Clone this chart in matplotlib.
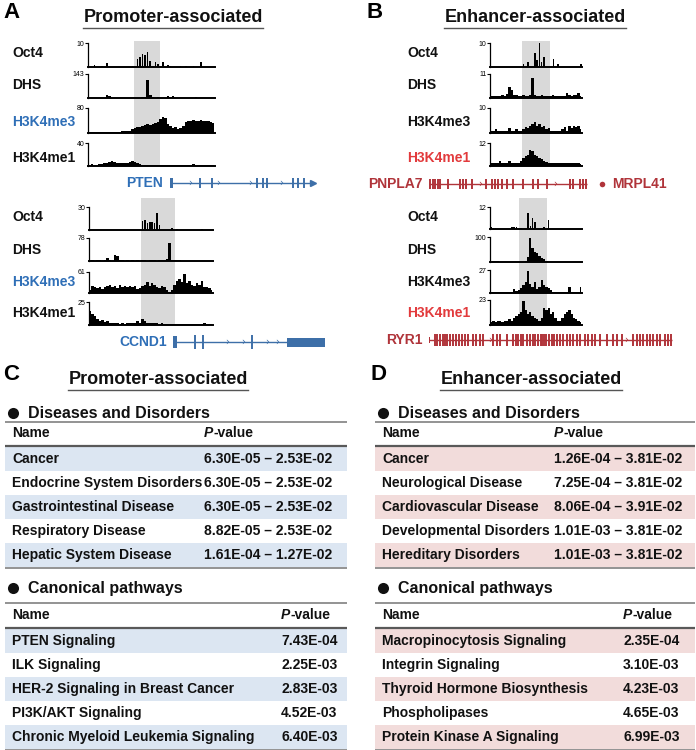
import matplotlib.pyplot as plt
from matplotlib.patches import Rectangle
import numpy as np

plt.rcParams['font.family'] = ['Liberation Sans', 'DejaVu Sans']

W, H = 696, 750

marks = ["Oct4", "DHS", "H3K4me3", "H3K4me1"]

# ---- panel A, PTEN locus (50 bins) ----
pten_max = [10, 143, 80, 40]
pten_oct4 = [0, 0, 1.0, 0, 0, 0.6, 0, 1.6, 0, 0, 0, 0, 0, 0, 0, 0, 0, 0.4, 0, 3.3,
             4.0, 5.5, 5.0, 6.2, 2.5, 0.5, 2.0, 1.2, 0, 2.0, 0, 0.8, 0.6, 0, 0, 0, 0.6, 0, 0.6, 0,
             0, 0.6, 0, 0, 2.0, 0, 0, 0, 0, 0]
pten_dhs = [1, 1, 1, 1, 1, 1, 2, 15, 12, 2, 1, 1, 1, 1, 1, 1, 1, 1, 1, 1,
            2, 4, 8, 110, 20, 3, 2, 4, 1, 1, 2, 10, 3, 12, 2, 1, 1, 1, 1, 1,
            1, 1, 3, 1, 1, 1, 1, 1, 1, 1]
pten_me3 = [2, 2, 3, 2, 3, 2, 3, 3, 2, 3, 4, 3, 4, 5, 5, 6, 8, 12, 16, 18,
            20, 22, 25, 28, 26, 30, 33, 36, 45, 52, 48, 30, 22, 16, 20, 14, 16, 24, 34, 40,
            38, 42, 40, 38, 42, 40, 38, 40, 36, 32]
pten_me1 = [2, 3, 1.5, 2, 3, 4, 5, 6, 7, 8, 7, 6, 5, 6, 5, 6, 7, 8, 7, 6,
            4, 2, 1.5, 1, 1, 1.5, 1, 1, 1, 1.5, 1, 1, 1, 1, 1, 1, 1, 1, 1, 1.5,
            2, 3, 2, 1, 1, 1.5, 2, 1.5, 2, 1.5]
pten_peak = (17.5, 27.7)

# ---- panel A, CCND1 locus (50 bins) ----
ccnd1_max = [30, 78, 61, 25]
ccnd1_oct4 = [0] * 21 + [12, 13, 9, 10, 11, 9, 22, 6, 0, 0, 0, 0, 2, 0, 1.2,
                         0, 0, 0, 0, 0, 0, 0, 0, 0, 0.8, 0, 0, 0, 0]
ccnd1_dhs = [1, 2, 1, 2, 5, 1, 2, 9, 2, 1, 22, 16, 5, 2, 1, 2, 1, 2, 1, 2,
             1, 2, 2, 1, 2, 4, 2, 1, 5, 2, 2, 8, 60, 5, 3, 2, 2, 1, 1, 1,
             1, 1, 1, 1, 1, 1, 1, 1, 1, 1]
ccnd1_me3 = [8, 20, 16, 15, 18, 12, 16, 20, 24, 18, 20, 15, 23, 16, 20, 18, 20, 16, 20, 12,
             15, 20, 24, 31, 20, 28, 24, 16, 15, 20, 18, 8, 4, 8, 24, 36, 41, 32, 55, 28,
             36, 24, 20, 28, 23, 36, 16, 18, 15, 10]
ccnd1_me1 = [15, 12, 10, 7, 4, 5, 3, 4, 2.5, 2, 2.5, 2, 1.5, 2, 1.5, 2, 2.5, 2, 2.5, 4,
             2, 6, 4, 2.5, 2.5, 2, 2.5, 2, 1.5, 2, 1.5, 0.8, 1, 0.8, 0.8, 1, 0.8, 0.8, 0.8, 0.8,
             1, 0.8, 0.8, 0.8, 0.8, 0.8, 2, 0.8, 0.8, 0.8]
ccnd1_peak = (20.5, 34.0)

# ---- panel B, PNPLA7 locus (40 bins) ----
pnpla7_max = [10, 11, 10, 12]
pnpla7_oct4 = [0] * 14 + [1.4, 0, 2, 0, 0, 5.7, 3, 10, 2, 4, 0, 0, 0, 3.5, 0, 1.4,
                          0, 0, 0, 0, 0, 0, 0, 0, 0, 1.4]
pnpla7_dhs = [1, 0.8, 1, 0.8, 1, 1.2, 1, 2, 5, 3.5, 1.5, 1.2, 1, 0.8, 1.5, 1, 0.8, 1.5, 9, 1.5,
              1, 0.8, 1.2, 1, 0.8, 1, 0.8, 1.2, 0.8, 1, 0.8, 1, 1, 2.5, 1.2, 1, 1.5, 1.2, 2.5, 1]
pnpla7_me3 = [0.7, 0.7, 1.5, 0.7, 0.8, 0.7, 1, 0.8, 2.2, 0.7, 0.8, 1.5, 0.7, 1, 1.5, 2.5, 2, 3, 3.5, 4.5,
              3, 3.8, 2.5, 3, 1.5, 2, 1, 0.8, 0.7, 0.8, 0.7, 1.5, 2.5, 1, 2.8, 2, 3, 2.5, 3, 1.5]
pnpla7_me1 = [1.4, 1.4, 1.7, 1.4, 2.5, 1.4, 1.7, 1.4, 2.5, 1.4, 1.4, 1.7, 1.4, 2.5, 4.2, 5.1, 6, 8.5, 7.6, 6,
              5.1, 4.2, 3.4, 2.5, 2, 1.7, 1.4, 1.7, 1.4, 1.4, 1.7, 1.4, 1.4, 1.7, 1.4, 1.7, 1.4, 1.7, 1.4, 1]
pnpla7_peak = (13.6, 25.7)

# ---- panel B, RYR1 locus (40 bins) ----
ryr1_max = [12, 100, 27, 23]
ryr1_oct4 = [1, 0.5, 0.7, 0, 0, 0, 0, 0, 0, 1, 1, 1, 0, 0.5, 0, 0, 9, 1.6, 5.8, 4,
             0, 0, 0, 1.3, 0, 5, 0, 0, 0, 0, 0, 0, 0, 0, 0, 0, 0, 0, 0, 0]
ryr1_dhs = [0.5, 2, 3, 2, 0.5, 0.5, 0.5, 0.5, 0.5, 0.5, 0.5, 0.5, 0.5, 0.5, 0.5, 2, 20, 97, 55, 40,
            35, 25, 16, 10, 5, 1, 0.5, 0.5, 0.5, 0.5, 0.5, 0.5, 0.5, 0.5, 0.5, 0.5, 0.5, 0.5, 0.5, 0.5]
ryr1_me3 = [0.7, 0.7, 0.7, 0.7, 0.7, 0.7, 0.7, 0.7, 0.7, 0.7, 4.4, 2.2, 3.7, 5.5, 9.2, 13, 26, 11, 7.4, 13,
            4.4, 7.4, 15, 9, 7.4, 5.5, 3, 0.7, 0.7, 0.7, 0.7, 0.7, 0.7, 0.7, 7.4, 0.7, 0.7, 0.7, 0.7, 7.4]
ryr1_me1 = [2.7, 3.4, 2.7, 4.1, 3.4, 2.7, 4.1, 3.4, 5.1, 4.1, 6.9, 8.6, 10.3, 12, 22.3, 13.7, 10.3, 12, 8.6, 6.9,
            5.1, 4.1, 6.9, 15.4, 13.7, 15.4, 10.3, 12, 6.9, 3.4, 3.4, 6.9, 10.3, 12, 13.7, 10.3, 6.9, 5.1, 3.4, 2.7]
ryr1_peak = (12.2, 24.2)

# ---- gene models (positions along the locus) ----
pten_exons = [29.5, 42, 87, 93, 97, 123, 128, 133.5]
pten_chev = [20, 48, 80, 111]
ccnd1_exons = [22, 30, 79]
ccnd1_chev = [54, 70, 94, 104]
pnpla7_exons = [1, 3.5, 6, 8.5, 11, 19.3, 31, 33.7, 37, 42.7, 57, 62.7, 66, 69.3, 72.7, 77.7,
                84.3, 94.3, 103.7, 109.3, 117.7, 141, 143.7, 151, 154.3, 157]
pnpla7_chev = [51, 126]
ryr1_exons = [6, 8.3, 11, 13.7, 16, 18.3, 21, 24.3, 27, 30.3, 32.7, 36, 39.3, 43.7, 47, 51, 54.3,
              64.3, 67.7, 71, 77.7, 83.7, 86.7, 89.3, 91.7, 94.3, 97.7, 101, 103.7, 106, 109.3, 112,
              113.3, 115, 117, 120.3, 122.7, 125, 127.7, 131, 134.3, 137.7, 141, 144.3, 147.7, 151,
              156, 159.3, 162.7, 166, 171, 177.7, 184.3, 187.7, 192.7, 204.3, 207.7, 211, 214.3,
              217.7, 221, 224.3, 227.7, 231, 236, 239.3, 241.7]
ryr1_chev = [61, 197]

# ---- tables ----
c_dis_names = ["Cancer", "Endocrine System Disorders", "Gastrointestinal Disease",
               "Respiratory Disease", "Hepatic System Disease"]
c_dis_p = ["6.30E-05 \u2013 2.53E-02", "6.30E-05 \u2013 2.53E-02", "6.30E-05 \u2013 2.53E-02",
           "8.82E-05 \u2013 2.53E-02", "1.61E-04 \u2013 1.27E-02"]
c_path_names = ["PTEN Signaling", "ILK Signaling", "HER-2 Signaling in Breast Cancer",
                "PI3K/AKT Signaling", "Chronic Myeloid Leukemia Signaling"]
c_path_p = ["7.43E-04", "2.25E-03", "2.83E-03", "4.52E-03", "6.40E-03"]
d_dis_names = ["Cancer", "Neurological Disease", "Cardiovascular Disease",
               "Developmental Disorders", "Hereditary Disorders"]
d_dis_p = ["1.26E-04 \u2013 3.81E-02", "7.25E-04 \u2013 3.81E-02", "8.06E-04 \u2013 3.91E-02",
           "1.01E-03 \u2013 3.81E-02", "1.01E-03 \u2013 3.81E-02"]
d_path_names = ["Macropinocytosis Signaling", "Integrin Signaling", "Thyroid Hormone Biosynthesis",
                "Phospholipases", "Protein Kinase A Signaling"]
d_path_p = ["2.35E-04", "3.10E-03", "4.23E-03", "4.65E-03", "6.99E-03"]

BLUE_TXT = "#2f6fb7"
BLUE_GENE = "#3d6fa8"
RED_LBL = "#e23a3c"
RED_GENE = "#b0343a"
TXT = "#111111"

fig = plt.figure(figsize=(6.96, 7.5), dpi=100)
ax0 = fig.add_axes([0, 0, 1, 1])
ax0.set_xlim(0, W)
ax0.set_ylim(H, 0)
ax0.axis('off')


def px_axes(x0, y0, x1, y1, z=1):
    a = fig.add_axes([x0 / W, 1 - y1 / H, (x1 - x0) / W, (y1 - y0) / H])
    a.set_zorder(z)
    a.patch.set_alpha(0)
    return a


def highlight(x0, x1, y0, y1, n, span):
    a = px_axes(x0, y0, x1, y1, z=0.5)
    a.set_xlim(-0.5, n - 0.5)
    a.axvspan(span[0], span[1], color='#d9d9d9', lw=0)
    a.axis('off')


def track(x0, x1, y0, y1, vals, vmax, spiky=False):
    a = px_axes(x0, y0, x1, y1)
    n = len(vals)
    if spiky:
        a.bar(np.arange(n), vals, width=0.6, color='black', lw=0)
    else:
        a.fill_between(np.arange(n), vals, step='mid', color='black', lw=0)
    a.set_xlim(-0.5, n - 0.5)
    a.set_ylim(0, vmax)
    a.spines[['top', 'right']].set_visible(False)
    a.spines['left'].set_linewidth(0.9)
    a.spines['bottom'].set_linewidth(1.4)
    a.set_xticks([])
    a.set_yticks([vmax])
    a.set_yticklabels([str(vmax)], fontsize=5)
    a.tick_params(axis='y', length=2, width=0.8, pad=0.5)


def gene(x0, x1, yc, span, line_end, exons, color, chev, tall=5, blocks=()):
    a = px_axes(x0, yc - 8, x1, yc + 8)
    a.set_xlim(0, span)
    a.set_ylim(-8, 8)
    a.axis('off')
    a.hlines(0, 0, line_end, color=color, lw=1)
    a.vlines(exons, -tall, tall, color=color, lw=1.4)
    for s, w, h in blocks:
        a.add_patch(Rectangle((s, -h), w, 2 * h, color=color, lw=0))
    for c in chev:
        a.text(c, 0, '\u203a', color=color, fontsize=7, ha='center', va='center',
               family=['DejaVu Sans'])
    return a


def track_group(x0, x1, tops, bots, data, maxes, peak, box):
    n = len(data[0])
    highlight(x0, x1, box[0], box[1], n, peak)
    for i, (t, b, v, m) in enumerate(zip(tops, bots, data, maxes)):
        track(x0, x1, t, b, v, m, spiky=(i == 0))


def labels(x, ys, colors):
    for m, y, c in zip(marks, ys, colors):
        ax0.text(x, y, m, fontsize=10, fontweight='bold', color=c, va='center', ha='left')


def title(x, y, s):
    return ax0.text(x, y, s, fontsize=13, fontweight='bold', ha='center', va='center', color=TXT)


# panel letters / titles
for lx, ly, s in [(3, 12, "A"), (367, 12, "B"), (3, 374, "C"), (371, 374, "D")]:
    ax0.text(lx, ly, s, fontsize=16, fontweight='bold', va='center', ha='left')
titles = [title(173, 18, "Promoter-associated"), title(535, 18, "Enhancer-associated"),
          title(158, 380, "Promoter-associated"), title(531, 380, "Enhancer-associated")]

# panel A
track_group(88, 215, [43, 74, 108, 143], [67, 98, 133, 166],
            [pten_oct4, pten_dhs, pten_me3, pten_me1], pten_max, pten_peak, (41, 166))
labels(12, [53, 85, 122, 158], [TXT, TXT, BLUE_TXT, TXT])
g = gene(170, 316, 183, 146, 141, pten_exons, BLUE_GENE, pten_chev, tall=5,
         blocks=[(0, 2.5, 5)])
g.plot([142.5], [0], marker='>', ms=5, color=BLUE_GENE, lw=0)
ax0.text(163, 183, "PTEN", color=BLUE_TXT, fontsize=10, fontweight='bold', ha='right', va='center')

track_group(89, 213, [207, 238, 272, 302], [230, 261, 293, 325],
            [ccnd1_oct4, ccnd1_dhs, ccnd1_me3, ccnd1_me1], ccnd1_max, ccnd1_peak, (198, 325))
labels(12, [217, 250, 282, 313], [TXT, TXT, BLUE_TXT, TXT])
gene(173, 326, 342, 153, 114, ccnd1_exons, BLUE_GENE, ccnd1_chev, tall=7,
     blocks=[(0, 4, 6), (114, 38, 4.5)])
ax0.text(167, 342, "CCND1", color=BLUE_TXT, fontsize=10, fontweight='bold', ha='right', va='center')

# panel B
track_group(490, 582, [43, 74, 108, 143], [67, 98, 133, 166],
            [pnpla7_oct4, pnpla7_dhs, pnpla7_me3, pnpla7_me1], pnpla7_max, pnpla7_peak, (41, 166))
labels(407, [53, 85, 122, 158], [TXT, TXT, TXT, RED_LBL])
g = gene(429, 606, 184, 177, 158, pnpla7_exons, RED_GENE, pnpla7_chev, tall=5)
g.plot([172.7], [0], marker='o', ms=4, mew=0, color=RED_GENE, lw=0)
ax0.text(423, 184, "PNPLA7", color=RED_GENE, fontsize=10, fontweight='bold', ha='right', va='center')
ax0.text(612, 184, "MRPL41", color=RED_GENE, fontsize=10, fontweight='bold', ha='left', va='center')

track_group(490, 582, [207, 237, 270, 300], [229, 262, 293, 325],
            [ryr1_oct4, ryr1_dhs, ryr1_me3, ryr1_me1], ryr1_max, ryr1_peak, (198, 325))
labels(407, [217, 250, 282, 313], [TXT, TXT, TXT, RED_LBL])
gene(429, 673, 340, 244, 243, ryr1_exons, RED_GENE, ryr1_chev, tall=6, blocks=[(0, 0.8, 3)])
ax0.text(423, 340, "RYR1", color=RED_GENE, fontsize=10, fontweight='bold', ha='right', va='center')

FS = 10


# tables
def table(x0, x1, y_sec, y_top, y_head, y_hl, heading, names, pvals, name_x, p_x, band):
    ax0.plot([x0 + 8], [y_sec], marker='o', ms=8, mew=0, color=TXT, lw=0)
    ax0.text(x0 + 23, y_sec, heading, fontsize=11.5, fontweight='bold', va='center', ha='left',
             color=TXT)
    ax0.plot([x0, x1], [y_top, y_top], color='#808080', lw=1.2, solid_capstyle='butt')
    ax0.text(name_x, y_head, "Name", fontsize=FS, fontweight='bold', va='center', color=TXT)
    tp = ax0.text(p_x, y_head, "P", fontsize=FS, fontweight='bold', style='italic',
                  va='center', color=TXT)
    ax0.annotate("-value", xy=(1, 0), xycoords=tp, va='bottom', ha='left', fontsize=FS,
                 fontweight='bold', color=TXT)
    ax0.plot([x0, x1], [y_hl, y_hl], color='#595959', lw=1.6, solid_capstyle='butt')
    rh = 24
    for i, (nm, pv) in enumerate(zip(names, pvals)):
        ytop = y_hl + 1 + i * rh
        if i % 2 == 0:
            ax0.add_patch(Rectangle((x0, ytop), x1 - x0, rh, color=band, lw=0))
        ax0.text(name_x, ytop + rh / 2, nm, fontsize=FS, fontweight='bold', va='center', color=TXT)
        ax0.text(p_x, ytop + rh / 2, pv, fontsize=FS, fontweight='bold', va='center', color=TXT)
    yb = y_hl + 1 + len(names) * rh + 1
    ax0.plot([x0, x1], [yb, yb], color='#808080', lw=1.2, solid_capstyle='butt')


BAND_C = "#dce6f2"
BAND_D = "#f2dcdb"
table(5, 347, 413, 422, 433, 446, "Diseases and Disorders", c_dis_names, c_dis_p, 12, 204, BAND_C)
table(5, 347, 588, 603, 615, 628, "Canonical pathways", c_path_names, c_path_p, 12, 281, BAND_C)
table(375, 695, 413, 422, 433, 446, "Diseases and Disorders", d_dis_names, d_dis_p, 382, 554, BAND_D)
table(375, 695, 588, 603, 615, 628, "Canonical pathways", d_path_names, d_path_p, 382, 623, BAND_D)

# underline titles
fig.canvas.draw()
inv = ax0.transData.inverted()
for t in titles:
    bb = t.get_window_extent()
    (xa, ya), (xb, yb) = inv.transform([[bb.x0, bb.y0], [bb.x1, bb.y1]])
    ax0.plot([xa, xb], [ya + 1.5, ya + 1.5], color='#555555', lw=1)

fig.savefig("out.png", dpi=100)
